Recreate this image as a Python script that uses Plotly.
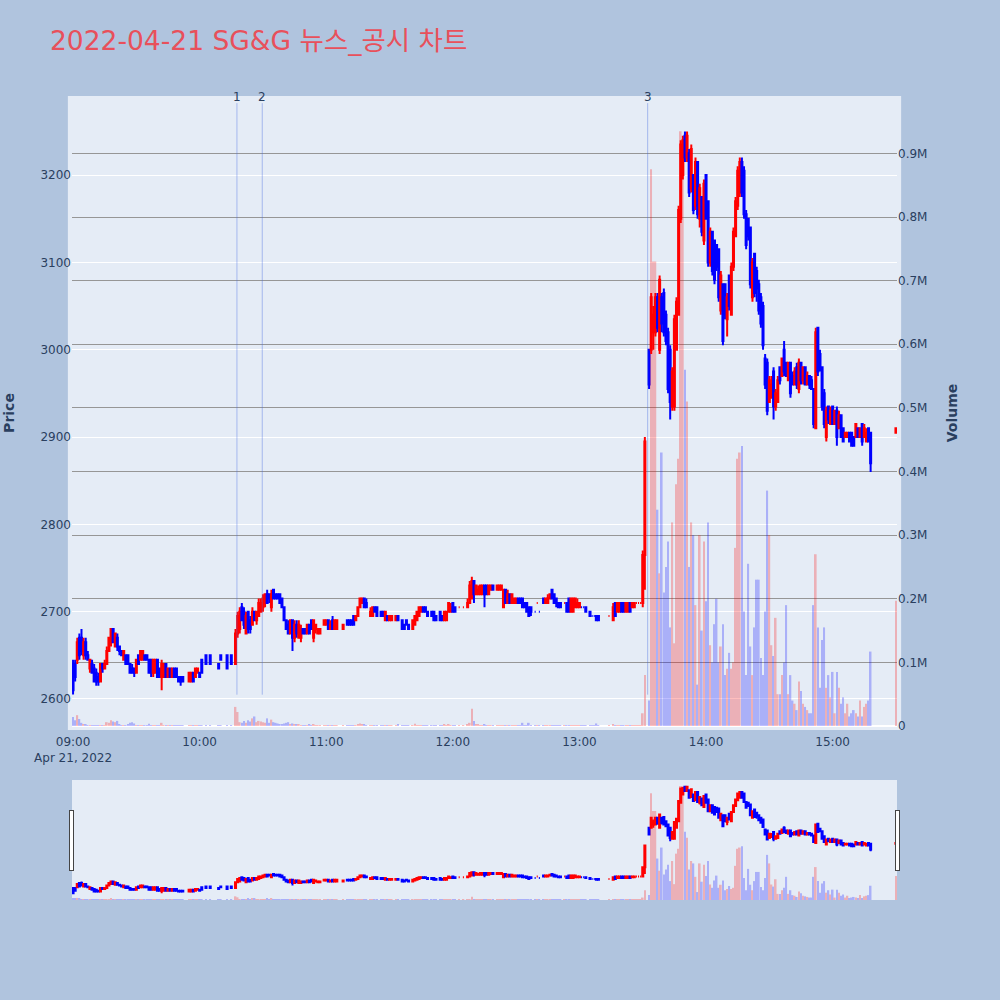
import pandas as pd
import plotly.graph_objects as go
from plotly.subplots import make_subplots

DATE = "2022-04-21"
TITLE = "2022-04-21 SG&G 뉴스_공시 차트"

# ---------------- morning session 09:00 - 10:15 ----------------
times_am = [
    "09:00", "09:01", "09:02", "09:03", "09:04", "09:05", "09:06", "09:07", "09:08", "09:09",
    "09:10", "09:11", "09:12", "09:13", "09:14", "09:15", "09:16", "09:17", "09:18", "09:19",
    "09:20", "09:21", "09:22", "09:23", "09:24", "09:25", "09:26", "09:27", "09:28", "09:29",
    "09:30", "09:31", "09:32", "09:33", "09:34", "09:35", "09:36", "09:37", "09:38", "09:39",
    "09:40", "09:41", "09:42", "09:43", "09:44", "09:45", "09:46", "09:47", "09:48", "09:49",
    "09:50", "09:51", "09:52",
    "09:55", "09:56", "09:57", "09:58", "09:59", "10:00", "10:01", "10:03", "10:05", "10:09",
    "10:10", "10:13", "10:15"]
open_am = [
    2640, 2640, 2645, 2670, 2670, 2650, 2665, 2650, 2635, 2640,
    2635, 2630, 2625, 2620, 2640, 2635, 2640, 2655, 2665, 2680,
    2660, 2670, 2660, 2655, 2645, 2650, 2650, 2640, 2635, 2635,
    2630, 2650, 2645, 2645, 2650, 2650, 2645, 2645, 2630, 2630,
    2645, 2635, 2625, 2625, 2640, 2625, 2635, 2625, 2635, 2635,
    2625, 2625, 2625,
    2620, 2620, 2630, 2625, 2630, 2630, 2645, 2650, 2650, 2640, 2650, 2650, 2650]
high_am = [
    2645, 2645, 2670, 2675, 2680, 2670, 2670, 2655, 2645, 2645,
    2640, 2635, 2630, 2640, 2640, 2645, 2660, 2670, 2680, 2680,
    2675, 2675, 2660, 2655, 2655, 2650, 2650, 2640, 2640, 2635,
    2645, 2650, 2655, 2655, 2650, 2650, 2645, 2645, 2645, 2645,
    2645, 2635, 2645, 2640, 2640, 2635, 2635, 2635, 2635, 2635,
    2625, 2625, 2625,
    2630, 2630, 2630, 2635, 2635, 2630, 2645, 2650, 2650, 2640, 2650, 2650, 2650]
low_am = [
    2605, 2620, 2640, 2645, 2650, 2645, 2645, 2645, 2630, 2630,
    2620, 2615, 2615, 2620, 2630, 2635, 2640, 2655, 2660, 2665,
    2660, 2655, 2650, 2650, 2645, 2640, 2640, 2630, 2630, 2625,
    2630, 2640, 2645, 2645, 2645, 2645, 2630, 2625, 2625, 2630,
    2625, 2625, 2610, 2625, 2625, 2625, 2625, 2625, 2625, 2625,
    2620, 2615, 2620,
    2620, 2620, 2620, 2625, 2630, 2625, 2630, 2640, 2640, 2635, 2645, 2635, 2640]
close_am = [
    2610, 2625, 2665, 2650, 2655, 2665, 2650, 2645, 2645, 2630,
    2620, 2620, 2620, 2640, 2635, 2640, 2655, 2670, 2680, 2665,
    2675, 2660, 2655, 2650, 2655, 2640, 2640, 2630, 2630, 2630,
    2645, 2640, 2655, 2655, 2645, 2645, 2630, 2630, 2645, 2645,
    2625, 2625, 2640, 2640, 2625, 2635, 2625, 2635, 2625, 2625,
    2620, 2620, 2620,
    2630, 2630, 2620, 2635, 2635, 2625, 2630, 2640, 2640, 2635, 2645, 2635, 2640]
vol_am = [
    14000, 9000, 17000, 11000, 5000, 3000, 2000, 1500, 1200, 1000,
    800, 1500, 900, 1200, 800, 600, 6000, 5000, 9000, 7000,
    6000, 8000, 3000, 1000, 700, 500, 3000, 5000, 6000, 4000,
    1000, 1500, 800, 900, 700, 500, 3500, 800, 500, 700,
    600, 500, 5000, 1000, 600, 400, 500, 300, 400, 300,
    500, 400, 300,
    400, 300, 500, 300, 200, 100, 400, 300, 200, 300, 200, 300, 200]

# ---------------- late morning 10:17 - 11:59 ----------------
times_late = [
    "10:17", "10:18", "10:19",
    "10:20", "10:21", "10:22", "10:23", "10:24", "10:25", "10:26", "10:27", "10:28", "10:29",
    "10:30", "10:31", "10:32", "10:33", "10:34", "10:35", "10:36", "10:37", "10:38", "10:39",
    "10:40", "10:41", "10:42", "10:43", "10:44", "10:45", "10:46", "10:47", "10:48", "10:49",
    "10:50", "10:51", "10:52", "10:53", "10:54", "10:55", "10:56", "10:57",
    "10:59", "11:00", "11:01", "11:02", "11:03", "11:04", "11:05",
    "11:08",
    "11:10", "11:11", "11:12", "11:13", "11:14", "11:15", "11:16", "11:17", "11:18", "11:19",
    "11:21", "11:22", "11:23", "11:24",
    "11:26", "11:27", "11:28", "11:29", "11:30", "11:31",
    "11:33", "11:34",
    "11:36", "11:37", "11:38", "11:39",
    "11:41", "11:42", "11:43", "11:44", "11:45", "11:46", "11:47", "11:48",
    "11:50", "11:51", "11:52",
    "11:54", "11:55", "11:56", "11:57", "11:58", "11:59"]
open_late = [
    2640, 2675, 2680, 2705, 2700, 2675, 2700, 2690, 2685, 2700,
    2690, 2695, 2700, 2705, 2710, 2720, 2720, 2705, 2725, 2720,
    2720, 2720, 2715, 2705, 2690, 2685, 2675, 2690, 2670, 2685,
    2670, 2670, 2680, 2680, 2675, 2685, 2690, 2670, 2680, 2675,
    2675,
    2685, 2685, 2690, 2680, 2690, 2680, 2680,
    2680,
    2690, 2690, 2690, 2695, 2690, 2695, 2705, 2710, 2715, 2710,
    2695, 2695, 2705, 2705,
    2700, 2700, 2690, 2695, 2690, 2690,
    2690, 2695,
    2690, 2685, 2690, 2685,
    2680, 2685, 2690, 2695, 2700, 2705, 2705, 2700,
    2700, 2700, 2695,
    2700, 2695, 2690, 2690, 2700, 2700]
high_late = [
    2680, 2700, 2705, 2710, 2705, 2700, 2700, 2695, 2705, 2700,
    2700, 2715, 2715, 2720, 2720, 2725, 2720, 2725, 2725, 2720,
    2720, 2720, 2715, 2705, 2690, 2690, 2690, 2690, 2690, 2690,
    2690, 2685, 2680, 2680, 2685, 2685, 2690, 2690, 2685, 2680,
    2680,
    2690, 2690, 2690, 2690, 2695, 2690, 2690,
    2685,
    2690, 2690, 2690, 2695, 2695, 2705, 2715, 2715, 2715, 2715,
    2705, 2705, 2705, 2705,
    2700, 2700, 2700, 2695, 2695, 2695,
    2695, 2695,
    2690, 2685, 2690, 2685,
    2690, 2695, 2700, 2705, 2705, 2705, 2705, 2700,
    2700, 2700, 2695,
    2700, 2695, 2700, 2700, 2710, 2710]
low_late = [
    2640, 2670, 2675, 2690, 2680, 2675, 2675, 2675, 2685, 2690,
    2685, 2695, 2700, 2700, 2705, 2710, 2710, 2700, 2715, 2715,
    2715, 2710, 2705, 2690, 2680, 2675, 2675, 2655, 2665, 2670,
    2670, 2665, 2675, 2675, 2675, 2675, 2680, 2665, 2675, 2675,
    2675,
    2685, 2685, 2680, 2680, 2680, 2680, 2680,
    2680,
    2685, 2685, 2685, 2685, 2690, 2695, 2705, 2710, 2705, 2705,
    2695, 2695, 2700, 2695,
    2695, 2695, 2690, 2690, 2690, 2690,
    2690, 2690,
    2680, 2680, 2685, 2680,
    2680, 2685, 2690, 2695, 2700, 2700, 2700, 2695,
    2695, 2690, 2690,
    2690, 2690, 2690, 2690, 2700, 2700]
close_late = [
    2675, 2695, 2700, 2690, 2685, 2695, 2680, 2680, 2700, 2690,
    2700, 2710, 2710, 2715, 2720, 2710, 2715, 2720, 2715, 2715,
    2715, 2710, 2705, 2690, 2680, 2675, 2690, 2670, 2685, 2675,
    2685, 2680, 2675, 2675, 2685, 2675, 2680, 2690, 2685, 2680,
    2680,
    2690, 2690, 2680, 2685, 2680, 2690, 2690,
    2685,
    2685, 2685, 2685, 2685, 2695, 2705, 2715, 2715, 2705, 2705,
    2700, 2705, 2700, 2695,
    2695, 2695, 2700, 2690, 2695, 2695,
    2695, 2690,
    2680, 2680, 2685, 2680,
    2690, 2695, 2700, 2705, 2705, 2700, 2700, 2695,
    2695, 2690, 2690,
    2690, 2690, 2700, 2700, 2710, 2705]
vol_late = [
    30000, 22000, 6000, 5000, 8000, 5000, 9000, 7000, 12000, 15000,
    6000, 8000, 7000, 6000, 5000, 12000, 5000, 10000, 6000, 5000,
    4000, 3000, 3000, 4000, 5000, 6000, 3000, 4000, 2000, 3000,
    2000, 1500, 1000, 1500, 1000, 2000, 1500, 2500, 1000, 800,
    600,
    500, 700, 800, 600, 1000, 700, 500,
    300,
    400, 300, 500, 600, 1500, 3000, 4000, 3000, 2000, 1000,
    800, 600, 500, 700,
    300, 300, 500, 400, 300, 300,
    400, 3000,
    1000, 800, 500, 600,
    700, 3500, 1000, 1500, 800, 500, 400, 500,
    300, 400, 300,
    400, 300, 3000, 500, 2500, 800]

# ---------------- midday 12:00 - 13:31 ----------------
times_mid = [
    "12:00", "12:01", "12:03", "12:05",
    "12:07", "12:08", "12:09", "12:10", "12:11", "12:12", "12:13", "12:14", "12:15", "12:16",
    "12:17", "12:18", "12:19",
    "12:21", "12:22", "12:23", "12:24", "12:25", "12:26", "12:27", "12:28", "12:29", "12:30",
    "12:31", "12:32", "12:33", "12:34", "12:35", "12:36", "12:37",
    "12:39", "12:40", "12:41",
    "12:43", "12:44", "12:45", "12:46", "12:47", "12:48", "12:49", "12:50", "12:51",
    "12:53", "12:54", "12:55", "12:56", "12:57", "12:58", "12:59", "13:00", "13:01", "13:02",
    "13:03",
    "13:05", "13:06", "13:07", "13:08", "13:09",
    "13:14",
    "13:16", "13:17", "13:18", "13:19", "13:20", "13:21", "13:22", "13:23", "13:24", "13:25",
    "13:26", "13:27", "13:28", "13:29", "13:30", "13:31"]
open_mid = [
    2710, 2705, 2705, 2705,
    2705, 2710, 2715, 2735, 2720, 2720, 2720, 2720, 2730, 2730, 2720, 2725, 2730,
    2725, 2725, 2725, 2705, 2725, 2710, 2720, 2710, 2710, 2710, 2715, 2715, 2715, 2710,
    2710, 2705, 2705,
    2700, 2710, 2700,
    2715, 2710, 2710, 2715, 2725, 2720, 2715, 2710, 2710,
    2710, 2710, 2715, 2700, 2700, 2705, 2705, 2705, 2705, 2705, 2705,
    2700, 2695, 2695, 2695, 2695,
    2695,
    2690, 2710, 2700, 2700, 2710, 2710, 2700, 2700, 2710, 2705, 2705, 2710, 2710, 2710,
    2710, 2765]
high_mid = [
    2710, 2705, 2705, 2705,
    2715, 2735, 2740, 2735, 2730, 2730, 2730, 2730, 2730, 2730, 2730, 2730, 2730,
    2730, 2730, 2730, 2725, 2725, 2725, 2720, 2720, 2715, 2715, 2715, 2715, 2715, 2710,
    2710, 2705, 2705,
    2700, 2710, 2700,
    2715, 2715, 2720, 2720, 2725, 2720, 2715, 2710, 2710,
    2710, 2710, 2715, 2715, 2715, 2715, 2715, 2710, 2705, 2705, 2705,
    2700, 2695, 2695, 2695, 2695,
    2695,
    2710, 2710, 2710, 2710, 2710, 2710, 2710, 2710, 2710, 2710, 2710, 2710, 2710, 2710,
    2770, 2900]
low_mid = [
    2700, 2700, 2705, 2705,
    2705, 2710, 2715, 2710, 2720, 2720, 2720, 2720, 2705, 2720, 2720, 2725, 2725,
    2725, 2725, 2725, 2705, 2710, 2710, 2710, 2710, 2710, 2710, 2710, 2710, 2705, 2705,
    2700, 2695, 2695,
    2700, 2710, 2700,
    2710, 2710, 2710, 2715, 2715, 2710, 2705, 2705, 2705,
    2710, 2700, 2700, 2700, 2700, 2705, 2705, 2705, 2705, 2705, 2700,
    2695, 2695, 2695, 2690, 2690,
    2695,
    2690, 2695, 2700, 2700, 2700, 2700, 2700, 2700, 2700, 2705, 2705, 2710, 2710, 2710,
    2705, 2725]
close_mid = [
    2700, 2700, 2705, 2705,
    2710, 2730, 2735, 2720, 2730, 2725, 2730, 2730, 2720, 2720, 2730, 2730, 2725,
    2730, 2730, 2730, 2725, 2710, 2720, 2710, 2720, 2715, 2715, 2710, 2710, 2705, 2705,
    2700, 2695, 2700,
    2700, 2710, 2700,
    2710, 2715, 2715, 2720, 2715, 2710, 2710, 2705, 2705,
    2710, 2700, 2700, 2715, 2715, 2715, 2710, 2710, 2705, 2705, 2700,
    2695, 2695, 2695, 2690, 2690,
    2695,
    2705, 2695, 2710, 2710, 2700, 2700, 2710, 2710, 2700, 2710, 2710, 2710, 2710, 2710,
    2765, 2895]
vol_mid = [
    600, 400, 300, 300,
    2000, 5000, 27000, 8000, 3000, 2000, 1500, 1000, 2000, 1000, 800, 600, 500,
    400, 500, 400, 1000, 800, 1000, 600, 500, 400, 300, 300, 400, 5000, 500,
    600, 5000, 500,
    200, 200, 200,
    300, 300, 400, 500, 600, 400, 300, 300, 200,
    200, 400, 600, 500, 400, 300, 300, 200, 200, 100, 300,
    200, 100, 100, 4000, 300,
    200,
    3000, 800, 500, 400, 300, 300, 400, 300, 300, 200, 200, 100, 100, 100,
    20000, 80000]

# ---------------- afternoon 13:33 - 15:18, close 15:30 ----------------
times_pm = [
    "13:33", "13:34", "13:35", "13:36", "13:37", "13:38", "13:39", "13:40", "13:41", "13:42",
    "13:43", "13:44", "13:45", "13:46", "13:47", "13:48", "13:49", "13:50", "13:51", "13:52",
    "13:53", "13:54", "13:55", "13:56", "13:57", "13:58", "13:59", "14:00", "14:01", "14:02",
    "14:03", "14:04", "14:05", "14:06", "14:07", "14:08", "14:09", "14:10", "14:11", "14:12",
    "14:13", "14:14", "14:15", "14:16", "14:17", "14:18", "14:19", "14:20", "14:21", "14:22",
    "14:23", "14:24", "14:25", "14:26", "14:27", "14:28", "14:29", "14:30", "14:31", "14:32",
    "14:33", "14:34", "14:35", "14:36", "14:37", "14:38", "14:39", "14:40", "14:41", "14:42",
    "14:43", "14:44", "14:45", "14:46", "14:47", "14:48", "14:49", "14:50", "14:51", "14:52",
    "14:53", "14:54", "14:55", "14:56", "14:57", "14:58", "14:59", "15:00", "15:01", "15:02",
    "15:03", "15:04", "15:05", "15:06", "15:07", "15:08", "15:09", "15:10", "15:11", "15:12",
    "15:13", "15:14", "15:15", "15:16", "15:17", "15:18",
    "15:30"]
open_pm = [
    3000, 3000, 3020, 3020, 3060, 3000, 3060, 3065, 3040, 3020,
    3000, 2935, 2935, 3000, 3040, 3150, 3200, 3245, 3220, 3225,
    3185, 3200, 3165, 3215, 3150, 3175, 3125, 3200, 3170, 3100,
    3135, 3125, 3120, 3115, 3045, 3075, 3075, 3035, 3085, 3040,
    3095, 3130, 3165, 3180, 3215, 3205, 3155, 3150, 3140, 3060,
    3110, 3090, 3075, 3060, 3050, 2990, 2985, 2940, 2945, 2975,
    2935, 2940, 2980, 2970, 3000, 2985, 2965, 2985, 2970, 2960,
    2980, 2955, 2985, 2965, 2980, 2960, 2970, 2965, 2955, 2910,
    3025, 2995, 2980, 2950, 2900, 2935, 2915, 2935, 2915, 2930,
    2910, 2925, 2910, 2900, 2900, 2905, 2905, 2900, 2900, 2910,
    2900, 2915, 2900, 2895, 2910, 2905,
    2905]
high_pm = [
    3000, 3065, 3050, 3065, 3065, 3085, 3065, 3070, 3045, 3025,
    3005, 2980, 3040, 3060, 3165, 3240, 3245, 3250, 3250, 3230,
    3235, 3200, 3220, 3215, 3190, 3175, 3195, 3200, 3170, 3140,
    3135, 3125, 3120, 3115, 3090, 3075, 3075, 3065, 3085, 3100,
    3140, 3175, 3210, 3220, 3220, 3210, 3160, 3150, 3140, 3105,
    3110, 3095, 3080, 3065, 3055, 2995, 2990, 2970, 2970, 2980,
    2955, 2970, 2980, 2990, 3010, 2985, 2985, 2985, 2975, 2980,
    2985, 2990, 2985, 2980, 2980, 2975, 2970, 2970, 2955, 3025,
    3025, 3000, 2980, 2955, 2935, 2935, 2935, 2935, 2930, 2935,
    2930, 2925, 2910, 2905, 2905, 2905, 2905, 2900, 2915, 2910,
    2910, 2915, 2915, 2910, 2910, 2905,
    2910]
low_pm = [
    2955, 2995, 3000, 3015, 3020, 2995, 3020, 3015, 3005, 2950,
    2920, 2930, 2930, 3000, 3040, 3145, 3195, 3215, 3215, 3175,
    3180, 3155, 3160, 3150, 3140, 3130, 3120, 3150, 3095, 3095,
    3085, 3075, 3090, 3055, 3040, 3005, 3035, 3015, 3045, 3040,
    3090, 3130, 3160, 3175, 3175, 3150, 3115, 3125, 3070, 3055,
    3060, 3055, 3040, 3025, 3000, 2955, 2925, 2940, 2945, 2920,
    2930, 2940, 2960, 2970, 2970, 2970, 2965, 2945, 2960, 2960,
    2955, 2950, 2960, 2960, 2960, 2960, 2955, 2955, 2910, 2910,
    2970, 2975, 2930, 2910, 2895, 2915, 2915, 2915, 2915, 2890,
    2910, 2900, 2895, 2900, 2900, 2895, 2890, 2890, 2900, 2900,
    2900, 2890, 2900, 2895, 2895, 2860,
    2905]
close_pm = [
    2960, 3060, 3040, 3060, 3025, 3080, 3030, 3020, 3010, 2955,
    2940, 2975, 3035, 3055, 3160, 3235, 3240, 3220, 3245, 3180,
    3230, 3160, 3215, 3155, 3185, 3135, 3190, 3150, 3100, 3135,
    3090, 3080, 3095, 3060, 3085, 3010, 3040, 3060, 3050, 3095,
    3135, 3170, 3205, 3215, 3180, 3155, 3120, 3130, 3075, 3100,
    3065, 3070, 3045, 3030, 3005, 2960, 2930, 2965, 2960, 2935,
    2950, 2965, 2965, 2990, 2975, 2970, 2985, 2950, 2960, 2975,
    2960, 2985, 2965, 2980, 2960, 2970, 2960, 2955, 2915, 3020,
    2975, 2980, 2935, 2915, 2930, 2920, 2930, 2915, 2930, 2900,
    2925, 2900, 2895, 2905, 2905, 2895, 2890, 2890, 2915, 2900,
    2910, 2895, 2910, 2905, 2895, 2870,
    2910]
vol_pm = [
    40000, 875000, 730000, 730000, 340000, 240000, 430000, 210000, 250000, 290000,
    155000, 320000, 130000, 380000, 420000, 935000, 920000, 560000, 510000, 250000,
    320000, 300000, 190000, 65000, 300000, 150000, 290000, 196000, 320000, 127000,
    100000, 160000, 200000, 100000, 125000, 160000, 80000, 90000, 115000, 90000,
    100000, 280000, 420000, 430000, 440000, 180000, 80000, 255000, 125000, 80000,
    155000, 230000, 230000, 107000, 80000, 180000, 370000, 300000, 127000, 110000,
    170000, 50000, 50000, 80000, 100000, 190000, 50000, 80000, 40000, 35000,
    25000, 70000, 55000, 35000, 30000, 25000, 20000, 20000, 190000, 270000,
    155000, 60000, 135000, 155000, 60000, 80000, 45000, 85000, 20000, 85000,
    60000, 35000, 45000, 20000, 35000, 15000, 20000, 25000, 20000, 15000,
    40000, 15000, 30000, 35000, 40000, 117000,
    197000]

# news / disclosure markers
event_times = ["10:17:40", "10:29:40", "13:32:20"]
event_labels = ["1", "2", "3"]

# ---------------- assemble ----------------
times = times_am + times_late + times_mid + times_pm
opens = open_am + open_late + open_mid + open_pm
highs = high_am + high_late + high_mid + high_pm
lows = low_am + low_late + low_mid + low_pm
closes = close_am + close_late + close_mid + close_pm
volumes = vol_am + vol_late + vol_mid + vol_pm

x = pd.to_datetime([f"{DATE} {t}" for t in times])

UP = "red"
DOWN = "blue"

# bar colours follow candle direction (doji -> compare with previous close)
vol_colors = []
prev_c = None
inc = True
for o, c in zip(opens, closes):
    if c != o:
        inc = c > o
    elif prev_c is not None and c != prev_c:
        inc = c > prev_c
    vol_colors.append(UP if inc else DOWN)
    prev_c = c

fig = make_subplots(specs=[[{"secondary_y": True}]])

fig.add_trace(go.Candlestick(
    x=x, open=opens, high=highs, low=lows, close=closes,
    increasing=dict(line=dict(color=UP, width=2), fillcolor=UP),
    decreasing=dict(line=dict(color=DOWN, width=2), fillcolor=DOWN),
    name="Price", showlegend=False), secondary_y=False)

fig.add_trace(go.Bar(
    x=x, y=volumes, marker=dict(color=vol_colors, line=dict(width=0)),
    opacity=0.25, name="Volume", showlegend=False), secondary_y=True)

PLOT_BG = "#E5ECF6"

shapes = [dict(type="rect", xref="paper", yref="paper",
               x0=-0.005, x1=1.005, y0=-0.0065, y1=1.0065,
               fillcolor=PLOT_BG, line=dict(width=0), layer="below")]
annotations = []
for t, lab in zip(event_times, event_labels):
    ts = pd.Timestamp(f"{DATE} {t}")
    shapes.append(dict(type="line", xref="x", yref="paper", x0=ts, x1=ts,
                       y0=0.05, y1=0.995,
                       line=dict(color="rgba(65,105,225,0.4)", width=1)))
    annotations.append(dict(x=ts, y=1.005, xref="x", yref="paper", text=lab,
                            showarrow=False, yanchor="middle",
                            font=dict(size=12, color="#2a3f5f")))

fig.update_layout(
    width=1000, height=1000,
    paper_bgcolor="#B0C4DE", plot_bgcolor=PLOT_BG,
    font=dict(family="DejaVu Sans, Noto Sans CJK KR, sans-serif", size=12, color="#2a3f5f"),
    title=dict(text=TITLE, x=0.05, xanchor="left", y=0.959, yanchor="middle",
               font=dict(size=26.5, color="#E8505B",
                         family="DejaVu Sans, Noto Sans CJK KR, sans-serif")),
    margin=dict(l=72, r=103, t=100, b=100),
    showlegend=False,
    shapes=shapes,
    annotations=annotations,
    bargap=0.2,
)
fig.update_xaxes(domain=[0, 1], showgrid=False,
                 ticks="outside", ticklen=5, tickcolor="rgba(0,0,0,0)",
                 rangeslider=dict(visible=True, thickness=0.15, bgcolor=PLOT_BG))
fig.update_yaxes(title=dict(text="<b>Price</b>", standoff=22), range=[2569, 3286],
                 automargin=False,
                 gridcolor="white", zeroline=False, secondary_y=False)
fig.update_yaxes(title=dict(text="<b>Volume</b>", standoff=20), range=[0, 984000],
                 automargin=False,
                 gridcolor="rgb(150,150,150)", zerolinecolor="white",
                 secondary_y=True)

fig.write_html("out.html", config={"displayModeBar": False},
               post_script="document.body.style.margin='0';document.body.style.overflow='hidden';")
